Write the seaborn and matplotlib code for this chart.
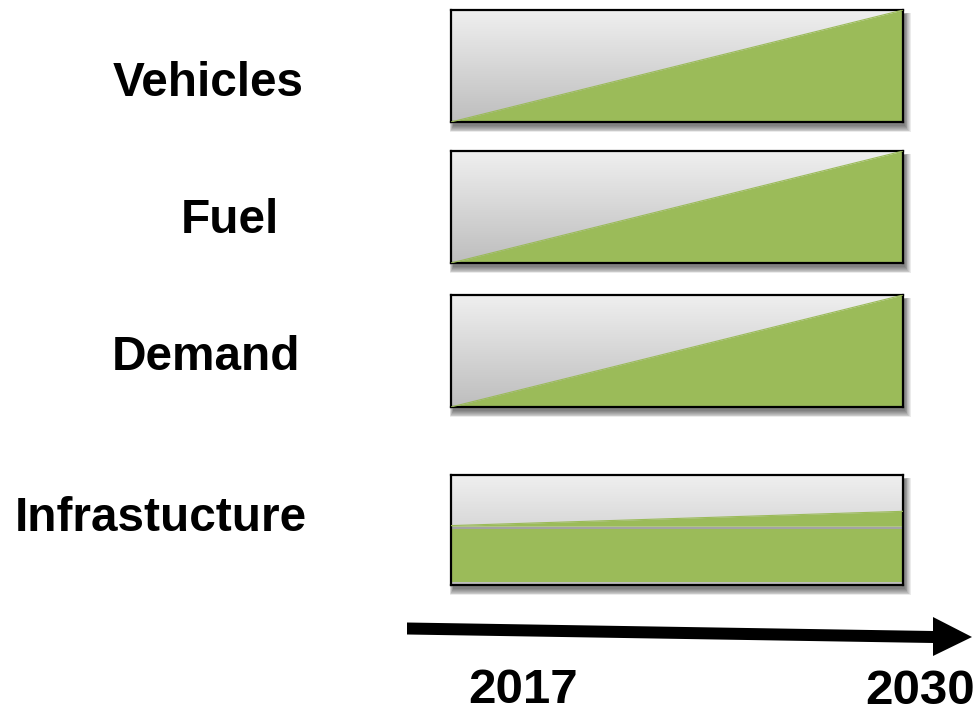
import numpy as np
import matplotlib
matplotlib.use("Agg")
import matplotlib.pyplot as plt
from matplotlib.colors import LinearSegmentedColormap
from matplotlib.patches import Rectangle, Polygon
import seaborn as sns

# data: share of the green (new) part in each box, from 2017 to 2030
categories = ["Vehicles", "Fuel", "Demand", "Infrastucture"]
years = [2017, 2030]
share_start = [0.0, 0.0, 0.0, 0.54]
share_end = [1.0, 1.0, 1.0, 0.67]
wedge_floor = [0.0, 0.0, 0.0, 0.535]
existing_share = [0.0, 0.0, 0.0, 0.51]
year_labels = ["2017", "2030"]

sns.set_theme(style="white")
plt.rcParams["font.family"] = ["Liberation Sans", "DejaVu Sans"]

W, H = 977, 713
fig = plt.figure(figsize=(W / 100, H / 100), dpi=100)

# overlay axes in pixel coords for labels, shadows, arrow
bg = fig.add_axes([0, 0, 1, 1])
bg.set_xlim(0, W)
bg.set_ylim(H, 0)
bg.axis("off")

green = "#9bbb59"
grad = LinearSegmentedColormap.from_list("g", ["#bebebe", "#efefef"])

# box layout in pixels (left, top, right, bottom)
box_x0, box_x1 = 451, 903
box_tops = [10, 151, 295, 475]
box_bottoms = [122, 263, 407, 585]
label_x = [208, 230, 206, 161]
label_base = [96, 233, 370, 531]

for i, cat in enumerate(categories):
    top, bot = box_tops[i], box_bottoms[i]
    # soft shadow
    for k in range(8):
        bg.add_patch(Rectangle((box_x0 + 2 - k * 0.5, top + 4 - k * 0.2),
                               box_x1 - box_x0 + k * 1.3, bot - top + k * 1.1,
                               facecolor="black", alpha=0.08, lw=0, zorder=1))
    ax = fig.add_axes([box_x0 / W, 1 - bot / H, (box_x1 - box_x0) / W, (bot - top) / H])
    ax.imshow(np.linspace(1, 0, 64).reshape(-1, 1), cmap=grad, aspect="auto",
              extent=[years[0], years[1], 0, 1], zorder=0)
    if existing_share[i] > 0:
        ax.axhspan(existing_share[i], wedge_floor[i] - 0.005, color="#a3a3a3", lw=0, zorder=1)
        ax.fill_between(years, [0.025, 0.025], [existing_share[i]] * 2, color=green, lw=0, zorder=2)
    ax.fill_between(years, [wedge_floor[i]] * 2, [share_start[i], share_end[i]],
                    color=green, lw=0, zorder=2)
    sns.lineplot(x=years, y=[share_start[i], share_end[i]], ax=ax, color=green, lw=0.8, zorder=3)
    ax.set_xlim(years[0], years[1])
    ax.set_ylim(0, 1)
    ax.set_xticks([])
    ax.set_yticks([])
    ax.set_xlabel("")
    for s in ax.spines.values():
        s.set_visible(True)
        s.set_color("black")
        s.set_linewidth(1.6)
    bg.text(label_x[i], label_base[i], cat, ha="center", va="baseline",
            fontsize=34.4, fontweight="bold", color="black")

# timeline arrow
shaft = Polygon([(407, 622.5), (933, 631), (933, 643), (407, 634.5)],
                closed=True, facecolor="black", lw=0, zorder=2)
head = Polygon([(933, 617), (972, 637), (933, 656)], closed=True,
               facecolor="black", lw=0, zorder=2)
bg.add_patch(shaft)
bg.add_patch(head)

bg.text(523, 703, year_labels[0], ha="center", va="baseline",
        fontsize=35.5, fontweight="bold", color="black")
bg.text(920, 704, year_labels[1], ha="center", va="baseline",
        fontsize=35.5, fontweight="bold", color="black")

fig.savefig("out.png", dpi=100)
